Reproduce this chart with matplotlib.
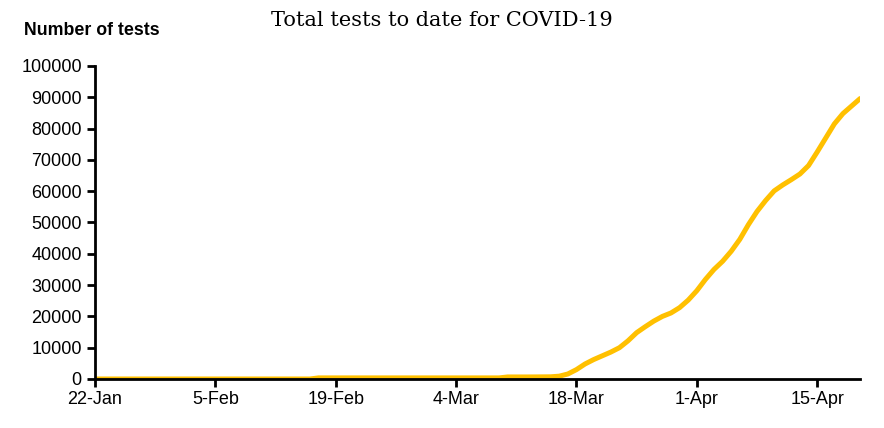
import matplotlib
matplotlib.use('Agg')
import matplotlib.pyplot as plt
import pandas as pd

# daily totals, 22-Jan .. 20-Apr
dates = pd.date_range('2020-01-22', '2020-04-20', freq='D')

early_tests = [0] * 26                      # 22-Jan .. 16-Feb
feb_tests = [350] * 22                      # 17-Feb .. 9-Mar
mar_early_tests = [650, 650, 650, 660, 680]  # 10-Mar .. 14-Mar
mar_tests = [700, 900, 1600, 3000, 4800, 6200, 7400, 8600, 10000,
             12200, 14800, 16700, 18500, 20000, 21100, 22800, 25200]  # 15..31-Mar
apr_tests = [28200, 31800, 35000, 37600, 40800, 44600, 49300, 53500,
             57000, 60100, 62000, 63700, 65500, 68200, 72500, 77000,
             81500, 84800, 87200, 89600]  # 1..20-Apr

tests = early_tests + feb_tests + mar_early_tests + mar_tests + apr_tests

tick_days = [0, 14, 28, 42, 56, 70, 84]
tick_labels = ['22-Jan', '5-Feb', '19-Feb', '4-Mar', '18-Mar', '1-Apr', '15-Apr']
y_ticks = list(range(0, 100001, 10000))

plt.rcParams['font.family'] = ['Liberation Sans', 'DejaVu Sans']

fig = plt.figure(figsize=(8.84, 4.28), dpi=100)
ax = fig.add_axes([0.1075, 0.1145, 0.8655, 0.7313])

days = list(range(len(dates)))
ax.plot(days, tests, color='#FFC000', linewidth=3.6, solid_capstyle='round',
        solid_joinstyle='round')

ax.set_xlim(0, len(dates) - 1)
ax.set_ylim(0, 100000)
ax.set_xticks(tick_days)
ax.set_xticklabels(tick_labels)
ax.set_yticks(y_ticks)
ax.set_yticklabels([str(v) for v in y_ticks])

for side in ['top', 'right']:
    ax.spines[side].set_visible(False)
for side in ['left', 'bottom']:
    ax.spines[side].set_linewidth(2)
    ax.spines[side].set_color('black')
ax.tick_params(axis='both', direction='out', length=6, width=2,
               labelsize=13, colors='black', pad=3.5)
ax.tick_params(axis='x', pad=2.5)

fig.text(0.5, 0.953, 'Total tests to date for COVID-19', ha='center', va='center',
         fontsize=15, family=['DejaVu Serif'])
fig.text(0.027, 0.928, 'Number of tests', ha='left', va='center',
         fontsize=12.8, fontweight='bold')

fig.savefig('out.png', dpi=100)
